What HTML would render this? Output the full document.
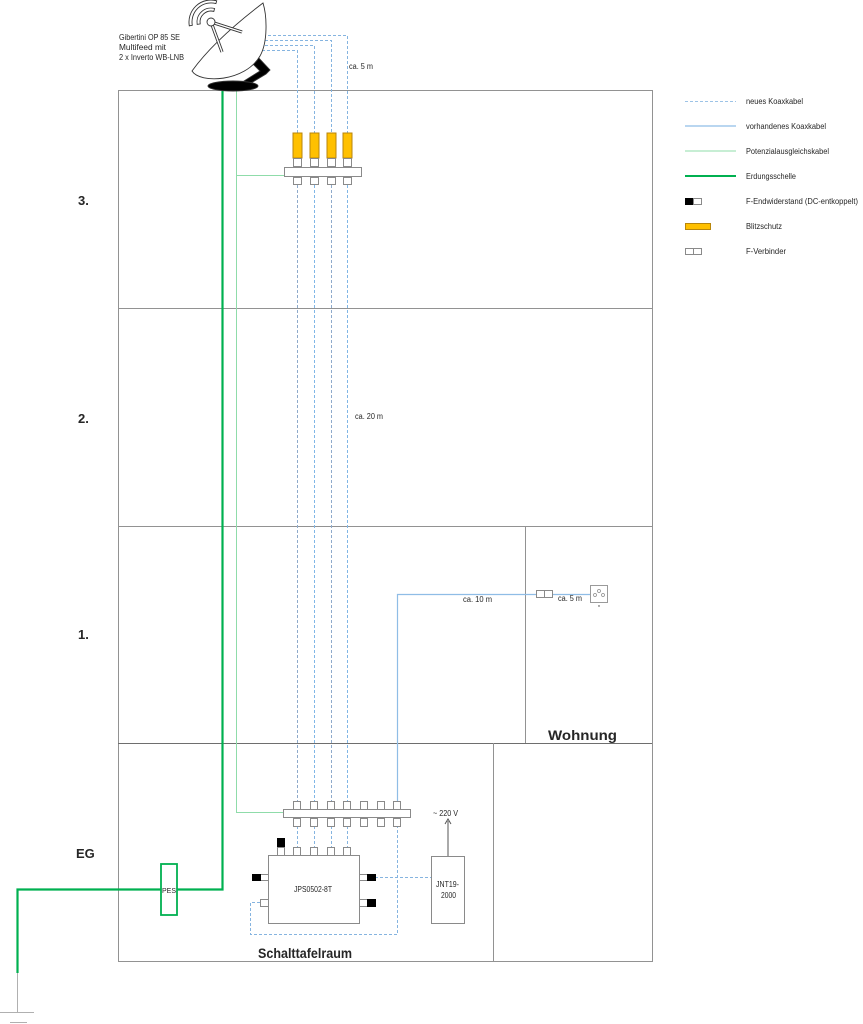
<!DOCTYPE html>
<html><head><meta charset="utf-8"><style>
html,body{margin:0;padding:0;background:#fff;}
svg{display:block;}
text{font-family:"Liberation Sans",sans-serif;fill:#262626;}
</style></head><body>
<svg width="863" height="1024" viewBox="0 0 863 1024" xmlns="http://www.w3.org/2000/svg">
<!-- building frame -->
<g stroke="#929292" stroke-width="1" fill="none">
<rect x="118.5" y="90.5" width="534" height="871"/>
<line x1="118" y1="308.5" x2="652" y2="308.5"/>
<line x1="118" y1="526.5" x2="652" y2="526.5"/>
<line x1="118" y1="743.5" x2="652" y2="743.5" stroke="#6e6e6e"/>
<line x1="525.5" y1="526" x2="525.5" y2="743"/>
<line x1="493.5" y1="743" x2="493.5" y2="962"/>
</g>
<!-- floor labels -->
<g font-weight="bold" font-size="13" style="fill:#111">
<text x="78" y="205">3.</text>
<text x="78" y="423">2.</text>
<text x="78" y="639">1.</text>
<text x="76" y="858">EG</text>
<text x="548" y="740" font-size="14" textLength="69" lengthAdjust="spacingAndGlyphs">Wohnung</text>
<text x="258" y="958" font-size="14" textLength="94" lengthAdjust="spacingAndGlyphs">Schalttafelraum</text>
</g>

<!-- dish label -->
<g font-size="8" style="fill:#5a4034">
<text x="119" y="40" textLength="61" lengthAdjust="spacingAndGlyphs">Gibertini OP 85 SE</text>
<text x="119" y="50" textLength="47" lengthAdjust="spacingAndGlyphs">Multifeed mit</text>
<text x="119" y="60" textLength="65" lengthAdjust="spacingAndGlyphs">2 x Inverto WB-LNB</text>
</g>

<!-- dashed cables from dish -->
<g fill="none" stroke-width="1" stroke-dasharray="3,2">
<polyline points="263,35.5 347.5,35.5 347.5,133" stroke="#85b4e0"/>
<polyline points="265,40.5 331.5,40.5 331.5,133" stroke="#85b4e0"/>
<polyline points="260,45.5 314.5,45.5 314.5,133" stroke="#85b4e0"/>
<polyline points="257,50.5 297.5,50.5 297.5,133" stroke="#85b4e0"/>
<!-- verticals through floors -->
<line x1="297.5" y1="185" x2="297.5" y2="801" stroke="#8eaacb"/>
<line x1="314.5" y1="185" x2="314.5" y2="801" stroke="#80b6e6"/>
<line x1="331.5" y1="185" x2="331.5" y2="801" stroke="#8eaacb"/>
<line x1="347.5" y1="185" x2="347.5" y2="801" stroke="#80b6e6"/>
<!-- below bottom bar to JPS -->
<line x1="297.5" y1="826" x2="297.5" y2="847" stroke="#85b4e0"/>
<line x1="314.5" y1="826" x2="314.5" y2="847" stroke="#85b4e0"/>
<line x1="331.5" y1="826" x2="331.5" y2="847" stroke="#85b4e0"/>
<line x1="347.5" y1="826" x2="347.5" y2="847" stroke="#85b4e0"/>
<!-- loop -->
<polyline points="260,902.5 250.5,902.5 250.5,934.5 397.5,934.5 397.5,826" stroke="#85b4e0"/>
<line x1="375" y1="877.5" x2="431" y2="877.5" stroke="#85b4e0"/>
</g>

<!-- existing coax -->
<polyline points="397.5,801 397.5,594.5 536,594.5" fill="none" stroke="#8fbde6" stroke-width="1.2"/>
<line x1="552" y1="594.5" x2="590" y2="594.5" stroke="#8fbde6" stroke-width="1.2"/>

<!-- potential equalisation light green -->
<g fill="none" stroke="#8fdcaa" stroke-width="1">
<polyline points="236.5,88 236.5,812.5 283,812.5"/>
<line x1="236.5" y1="175.5" x2="284" y2="175.5"/>
</g>

<!-- earth thick green -->
<polyline points="222.5,88 222.5,889.5 177,889.5" fill="none" stroke="#00b050" stroke-width="2.2"/>
<polyline points="161,889.5 17.5,889.5 17.5,973" fill="none" stroke="#00b050" stroke-width="2.2"/>
<rect x="161" y="864" width="16" height="51" fill="#fff" stroke="#00b050" stroke-width="1.8"/>
<text x="169" y="893" font-size="7" text-anchor="middle">PES</text>
<g stroke="#b0b0b0" stroke-width="1">
<line x1="17.5" y1="973" x2="17.5" y2="1012"/>
<line x1="0" y1="1012.5" x2="34" y2="1012.5"/>
<line x1="10" y1="1022.5" x2="27" y2="1022.5"/>
</g>

<!-- dish -->
<g stroke="#333" stroke-width="0.9">
<polygon points="246,60 256,55 270,70 266,74 246,86 236,86 260,71 252,63" fill="#000"/>
<ellipse cx="233" cy="86" rx="25" ry="5" fill="#000"/>
<path d="M192,71 C 200,84 245,82 260,56 C 268,42 267,16 263,3 C 238,22 210,46 192,71 Z" fill="#fff"/>
<line x1="211" y1="22" x2="222" y2="52" stroke-width="3.2"/>
<line x1="211" y1="22" x2="222" y2="52" stroke="#fff" stroke-width="1.4"/>
<line x1="211" y1="22" x2="242" y2="32" stroke-width="3.2"/>
<line x1="211" y1="22" x2="242" y2="32" stroke="#fff" stroke-width="1.4"/>
<circle cx="211" cy="22" r="4" fill="#fff"/>
<path d="M216.7,0.8 A22,22 0 0 0 189.3,25.8 L192.3,25.3 A19,19 0 0 1 215.9,3.6 Z" fill="#fff"/>
<path d="M214.6,8.5 A14,14 0 0 0 197.2,24.4 L200.2,23.9 A11,11 0 0 1 213.8,11.4 Z" fill="#fff"/>
</g>

<!-- top distributor with lightning protection -->
<g stroke="#8a8a8a" stroke-width="1" fill="#fff">
<rect x="293" y="133" width="9" height="25" fill="#ffc000" stroke="#b8860b"/>
<rect x="310" y="133" width="9" height="25" fill="#ffc000" stroke="#b8860b"/>
<rect x="327" y="133" width="9" height="25" fill="#ffc000" stroke="#b8860b"/>
<rect x="343" y="133" width="9" height="25" fill="#ffc000" stroke="#b8860b"/>
<rect x="293.5" y="158.5" width="8" height="8"/>
<rect x="310.5" y="158.5" width="8" height="8"/>
<rect x="327.5" y="158.5" width="8" height="8"/>
<rect x="343.5" y="158.5" width="8" height="8"/>
<rect x="284.5" y="167.5" width="77" height="9"/>
<rect x="293.5" y="177.5" width="8" height="7"/>
<rect x="310.5" y="177.5" width="8" height="7"/>
<rect x="327.5" y="177.5" width="8" height="7"/>
<rect x="343.5" y="177.5" width="8" height="7"/>
</g>

<!-- bottom distributor -->
<g stroke="#8a8a8a" stroke-width="1" fill="#fff">
<rect x="283.5" y="809.5" width="127" height="8"/>
<rect x="293.5" y="801.5" width="7" height="8"/>
<rect x="310.5" y="801.5" width="7" height="8"/>
<rect x="327.5" y="801.5" width="7" height="8"/>
<rect x="343.5" y="801.5" width="7" height="8"/>
<rect x="360.5" y="801.5" width="7" height="8"/>
<rect x="377.5" y="801.5" width="7" height="8"/>
<rect x="393.5" y="801.5" width="7" height="8"/>
<rect x="293.5" y="818.5" width="7" height="8"/>
<rect x="310.5" y="818.5" width="7" height="8"/>
<rect x="327.5" y="818.5" width="7" height="8"/>
<rect x="343.5" y="818.5" width="7" height="8"/>
<rect x="360.5" y="818.5" width="7" height="8"/>
<rect x="377.5" y="818.5" width="7" height="8"/>
<rect x="393.5" y="818.5" width="7" height="8"/>
</g>

<!-- JPS multiswitch -->
<g stroke="#8a8a8a" stroke-width="1" fill="#fff">
<rect x="268.5" y="855.5" width="91" height="68"/>
<rect x="293.5" y="847.5" width="7" height="8"/>
<rect x="310.5" y="847.5" width="7" height="8"/>
<rect x="327.5" y="847.5" width="7" height="8"/>
<rect x="343.5" y="847.5" width="7" height="8"/>
<rect x="277.5" y="847.5" width="7" height="8"/>
<rect x="277.5" y="838.5" width="7" height="8" fill="#000" stroke="#000"/>
<rect x="260.5" y="874.5" width="8" height="6"/>
<rect x="252.5" y="874.5" width="8" height="6" fill="#000" stroke="#000"/>
<rect x="260.5" y="899.5" width="8" height="7"/>
<rect x="359.5" y="874.5" width="8" height="6"/>
<rect x="367.5" y="874.5" width="8" height="6" fill="#000" stroke="#000"/>
<rect x="359.5" y="899.5" width="8" height="7"/>
<rect x="367.5" y="899.5" width="8" height="7" fill="#000" stroke="#000"/>
<rect x="431.5" y="856.5" width="33" height="67"/>
</g>
<text x="294" y="892" font-size="8" textLength="38" lengthAdjust="spacingAndGlyphs">JPS0502-8T</text>
<text x="436" y="887" font-size="8" textLength="23" lengthAdjust="spacingAndGlyphs">JNT19-</text>
<text x="441" y="898" font-size="8" textLength="15" lengthAdjust="spacingAndGlyphs">2000</text>
<line x1="448" y1="856" x2="448" y2="821" stroke="#555" stroke-width="1"/>
<polyline points="445,824 448,819 451,824" fill="none" stroke="#555" stroke-width="1"/>
<text x="433" y="816" font-size="8" textLength="25" lengthAdjust="spacingAndGlyphs">~ 220 V</text>

<!-- Wohnung socket -->
<rect x="536.5" y="590.5" width="8" height="7" fill="#fff" stroke="#8a8a8a"/>
<rect x="544.5" y="590.5" width="8" height="7" fill="#fff" stroke="#8a8a8a"/>
<rect x="590.5" y="585.5" width="17" height="17" fill="#fff" stroke="#9a9a9a"/>
<g fill="none" stroke="#888" stroke-width="0.7">
<circle cx="595" cy="595" r="1.5"/><circle cx="599" cy="591" r="1.5"/><circle cx="603" cy="595" r="1.5"/>
</g>
<circle cx="599" cy="606" r="0.7" fill="#333"/>

<!-- distance labels -->
<g font-size="8">
<text x="349" y="69" textLength="24" lengthAdjust="spacingAndGlyphs">ca. 5 m</text>
<text x="355" y="419" textLength="28" lengthAdjust="spacingAndGlyphs">ca. 20 m</text>
<text x="463" y="602" textLength="29" lengthAdjust="spacingAndGlyphs">ca. 10 m</text>
<text x="558" y="601" textLength="24" lengthAdjust="spacingAndGlyphs">ca. 5 m</text>
</g>

<!-- legend -->
<line x1="685" y1="101.5" x2="736" y2="101.5" stroke="#9dc3e6" stroke-width="1" stroke-dasharray="3,2"/>
<line x1="685" y1="126" x2="736" y2="126" stroke="#8fbde6" stroke-width="1.2"/>
<line x1="685" y1="151" x2="736" y2="151" stroke="#8fdcaa" stroke-width="1"/>
<line x1="685" y1="176" x2="736" y2="176" stroke="#00b050" stroke-width="2"/>
<rect x="685.5" y="198.5" width="8" height="6" fill="#000" stroke="#000"/>
<rect x="693.5" y="198.5" width="8" height="6" fill="#fff" stroke="#8a8a8a"/>
<rect x="685.5" y="223.5" width="25" height="6" fill="#ffc000" stroke="#b8860b"/>
<rect x="685.5" y="248.5" width="8" height="6" fill="#fff" stroke="#8a8a8a"/>
<rect x="693.5" y="248.5" width="8" height="6" fill="#fff" stroke="#8a8a8a"/>
<g font-size="8">
<text x="746" y="104" textLength="57" lengthAdjust="spacingAndGlyphs">neues Koaxkabel</text>
<text x="746" y="129" textLength="80" lengthAdjust="spacingAndGlyphs">vorhandenes Koaxkabel</text>
<text x="746" y="154" textLength="83" lengthAdjust="spacingAndGlyphs">Potenzialausgleichskabel</text>
<text x="746" y="179" textLength="50" lengthAdjust="spacingAndGlyphs">Erdungsschelle</text>
<text x="746" y="204" textLength="112" lengthAdjust="spacingAndGlyphs">F-Endwiderstand (DC-entkoppelt)</text>
<text x="746" y="229" textLength="36" lengthAdjust="spacingAndGlyphs">Blitzschutz</text>
<text x="746" y="254" textLength="40" lengthAdjust="spacingAndGlyphs">F-Verbinder</text>
</g>
</svg>
</body></html>
